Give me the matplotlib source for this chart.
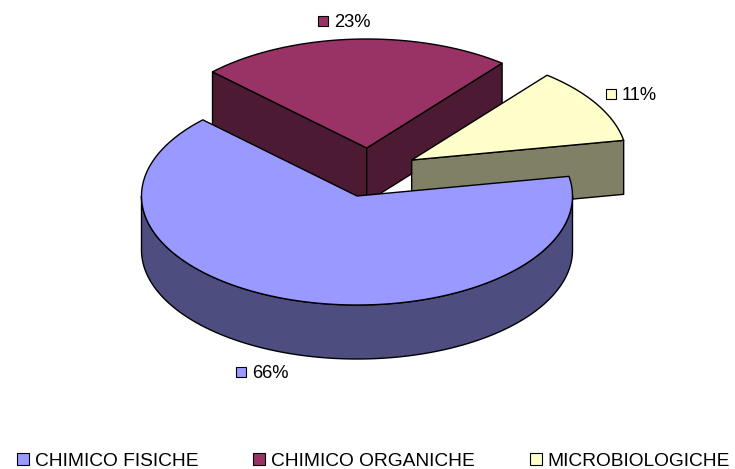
import numpy as np
import matplotlib
matplotlib.use("Agg")
import matplotlib.pyplot as plt
from matplotlib.patches import Polygon, Patch

categories = ["CHIMICO FISICHE", "CHIMICO ORGANICHE", "MICROBIOLOGICHE"]
shares = [65.2, 23.5, 11.3]
percent_labels = ["66%", "23%", "11%"]

top_colors = ["#9999FF", "#993366", "#FFFFCC"]
side_colors = ["#4D4D80", "#4D1A33", "#808066"]
tips = [(357, 196), (366.7, 148), (411.7, 160)]
label_pos = [(252.5, 372), (334.5, 21), (622, 94)]

RX, RY, DEPTH = 215.5, 109, 54
START = 10.4
plt.rcParams["font.family"] = ["Liberation Sans", "DejaVu Sans"]

fig = plt.figure(figsize=(7.35, 4.69), dpi=100)
ax = fig.add_axes([0, 0, 1, 1])
ax.set_xlim(0, 735)
ax.set_ylim(469, 0)
ax.axis("off")

def pt(tip, deg, dz=0):
    a = np.radians(deg)
    return tip[0] + RX * np.cos(a), tip[1] - RY * np.sin(a) + dz

def arc(tip, a0, a1, dz=0):
    n = max(2, int(abs(a1 - a0) * 2))
    return [pt(tip, d, dz) for d in np.linspace(a0, a1, n)]

def poly(points, color, z):
    ax.add_patch(Polygon(points, closed=True, facecolor=color, edgecolor="black",
                         linewidth=1.0, joinstyle="round", zorder=z))

# slice angles, clockwise from START
spans = np.array(shares) / sum(shares) * 360
ends = START - np.cumsum(spans)
starts = np.concatenate([[START], ends[:-1]])

for i, z in [(1, 1), (2, 2), (0, 3)]:
    tip, a0, a1 = tips[i], starts[i], ends[i]
    # flat cut faces that look towards the viewer
    if i == 1:
        faces = (a0, a1)
    elif i == 2:
        faces = (a1,)
    else:
        faces = ()
    for ang in faces:
        p = pt(tip, ang)
        poly([tip, p, (p[0], p[1] + DEPTH), (tip[0], tip[1] + DEPTH)], side_colors[i], z)
    # outer wall: the part of the rim on the front half
    w0, w1 = max(a1, -180), min(a0, 0)
    if w1 > w0:
        poly(arc(tip, w0, w1) + arc(tip, w1, w0, DEPTH), side_colors[i], z)
    poly([tip] + arc(tip, a0, a1), top_colors[i], z + 0.5)

for i, (x, y) in enumerate(label_pos):
    ax.add_patch(Polygon([(x - 16, y - 5), (x - 6, y - 5), (x - 6, y + 5), (x - 16, y + 5)],
                         closed=True, facecolor=top_colors[i], edgecolor="black", linewidth=0.8, zorder=6))
    ax.text(x, y + 1.5, percent_labels[i], fontsize=13.2, va="center", ha="left", color="black", zorder=6)

handles = [Patch(facecolor=c, edgecolor="black", linewidth=0.8) for c in top_colors]
leg = ax.legend(handles, categories, ncol=3, frameon=False, fontsize=13.8,
                loc="center left", bbox_to_anchor=(17 / 735, 1 - 461 / 469),
                borderpad=0, borderaxespad=0, handlelength=0.62, handleheight=0.62,
                handletextpad=0.31, columnspacing=2.87, labelspacing=0)

fig.savefig("out.png", dpi=100, facecolor="white")
